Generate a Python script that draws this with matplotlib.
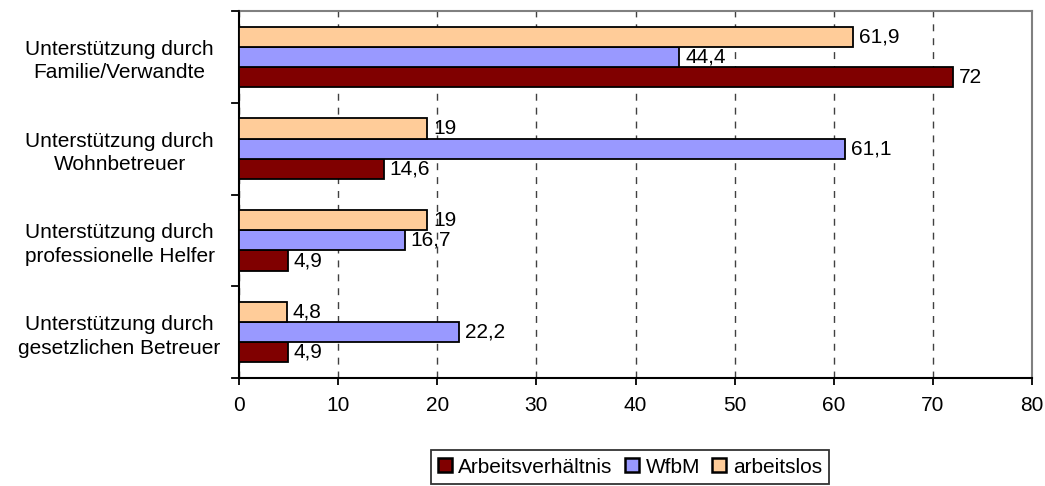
"""Horizontal grouped bar chart: Unterstützung nach Beschäftigungsstatus."""

import matplotlib

matplotlib.use("Agg")
import matplotlib.pyplot as plt
import numpy as np

categories = [
    "Unterstützung durch\nFamilie/Verwandte",
    "Unterstützung durch\nWohnbetreuer",
    "Unterstützung durch\nprofessionelle Helfer",
    "Unterstützung durch\ngesetzlichen Betreuer",
]
series_names = ["Arbeitsverhältnis", "WfbM", "arbeitslos"]
arbeitsverhaeltnis = [72, 14.6, 4.9, 4.9]
wfbm = [44.4, 61.1, 16.7, 22.2]
arbeitslos = [61.9, 19, 19, 4.8]
colors = ["#800000", "#9999FF", "#FFCC99"]

plt.rcParams["font.family"] = ["Liberation Sans", "DejaVu Sans"]
plt.rcParams["font.size"] = 15


def fmt(v):
    return (f"{v:g}").replace(".", ",")


fig = plt.figure(figsize=(10.45, 4.86), dpi=100)
ax = fig.add_axes([239 / 1045, 1 - 378 / 486, (1032 - 239) / 1045, (378 - 11) / 486])

n = len(categories)
centers = np.arange(n)[::-1].astype(float)
h = 0.22
offsets = [-h, 0.0, h]  # bottom to top: Arbeitsverhältnis, WfbM, arbeitslos

for vals, name, col, off in zip([arbeitsverhaeltnis, wfbm, arbeitslos], series_names, colors, offsets):
    bars = ax.barh(centers + off, vals, height=h, color=col, edgecolor="black",
                   linewidth=1.3, label=name, zorder=3)
    for b, v in zip(bars, vals):
        ax.text(b.get_width() + 0.6, b.get_y() + b.get_height() / 2, fmt(v),
                va="center", ha="left", fontsize=15, zorder=4)

ax.set_xlim(0, 80)
ax.set_ylim(-0.5, n - 0.5)
ax.set_xticks(range(0, 81, 10))
ax.set_yticks(centers)
ax.set_yticklabels(categories, ha="center", linespacing=1.3)
ax.tick_params(axis="y", length=0, pad=86)
ax.tick_params(axis="x", direction="out", length=5, width=1.3, pad=8, labelsize=15)

# category separator ticks on the left spine
for yb in np.arange(-0.5, n, 1.0):
    ax.plot([-0.7, 0], [yb, yb], color="black", lw=1.3, clip_on=False, zorder=5)

ax.xaxis.grid(True, linestyle=(0, (5, 5)), color="#404040", linewidth=1.0, zorder=0)
for s in ["top", "right"]:
    ax.spines[s].set_color("#808080")
    ax.spines[s].set_linewidth(1.5)
for s in ["left", "bottom"]:
    ax.spines[s].set_color("black")
    ax.spines[s].set_linewidth(1.5)

leg = fig.legend(loc="center", bbox_to_anchor=(630 / 1045, 1 - 467 / 486), ncol=3, frameon=True,
                 fancybox=False, edgecolor="black", handlelength=0.67, handleheight=0.67,
                 handletextpad=0.3, columnspacing=0.6, borderpad=0.35, fontsize=15)
leg.get_frame().set_linewidth(1.3)
for patch in leg.get_patches():
    patch.set_linewidth(1.8)

fig.savefig("out.png", dpi=100)
